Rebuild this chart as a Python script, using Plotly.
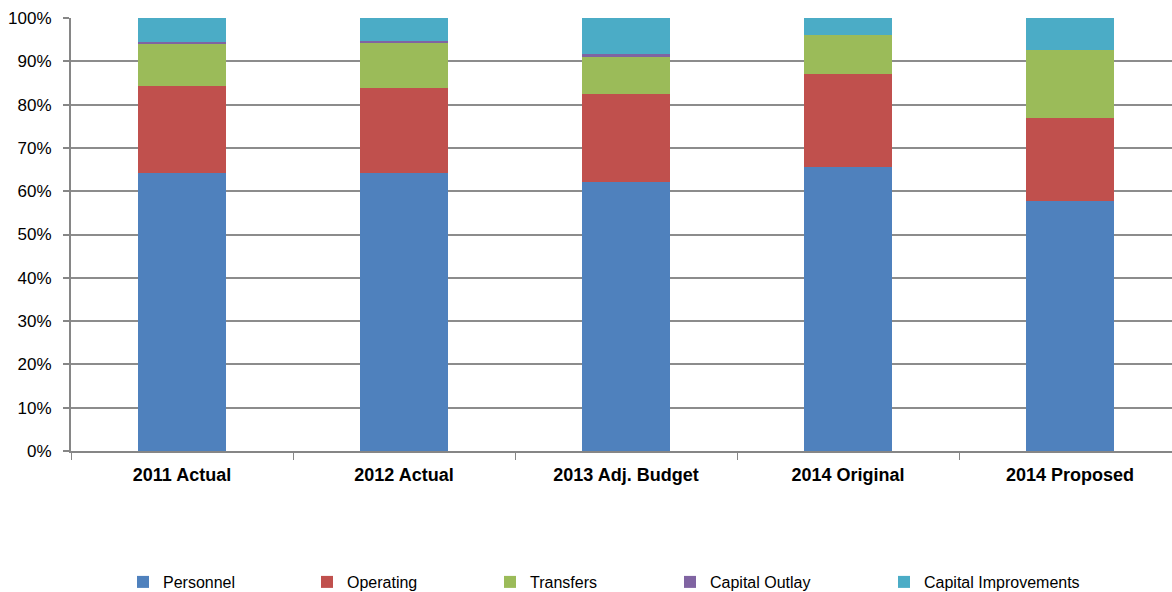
import plotly.graph_objects as go

categories = ["2011 Actual", "2012 Actual", "2013 Adj. Budget", "2014 Original", "2014 Proposed"]
personnel = [64.3, 64.2, 62.2, 65.5, 57.7]
operating = [20.1, 19.7, 20.3, 21.6, 19.3]
transfers = [9.5, 10.3, 8.6, 8.9, 15.7]
capital_outlay = [0.6, 0.5, 0.5, 0.0, 0.0]
capital_improvements = [5.5, 5.3, 8.4, 4.0, 7.3]

series = [
    ("Personnel", personnel, "#4F81BD"),
    ("Operating", operating, "#C0504D"),
    ("Transfers", transfers, "#9BBB59"),
    ("Capital Outlay", capital_outlay, "#8064A2"),
    ("Capital Improvements", capital_improvements, "#4BACC6"),
]

W, H = 1172, 592
L, R, T, B = 71, 0, 18, 141
plot_w = W - L - R
plot_h = H - T - B

legend_px = [138, 322, 505, 685, 899]
legend_py = 582

fig = go.Figure()
layout_legends = {}
for i, (name, vals, color) in enumerate(series):
    lname = "legend" if i == 0 else f"legend{i+1}"
    fig.add_trace(go.Bar(
        x=categories, y=vals, name=name,
        marker=dict(color=color, line=dict(width=0)),
        width=0.4, legend=lname,
    ))
    layout_legends[lname] = dict(
        x=(legend_px[i] - 15 - L) / plot_w,
        y=(plot_h + T - legend_py) / plot_h,
        xanchor="left", yanchor="middle",
        orientation="h",
        font=dict(family="Liberation Sans, Arial, sans-serif", size=16, color="#000000"),
        bgcolor="rgba(0,0,0,0)", borderwidth=0,
        itemwidth=30,
    )

fig.update_layout(
    barmode="stack",
    width=W, height=H,
    margin=dict(l=L, r=R, t=T, b=B, pad=0, autoexpand=False),
    paper_bgcolor="white", plot_bgcolor="white",
    showlegend=True,
    **layout_legends,
)

fig.update_xaxes(
    range=[-0.5, 4.5 - 9 / 222],
    showgrid=False,
    showline=True, linecolor="#868686", linewidth=2,
    ticks="outside", tickson="boundaries", ticklen=7, tickcolor="#868686", tickwidth=1,
    tickfont=dict(family="Liberation Sans, Arial, sans-serif",
                  size=18, color="#000000", weight="bold"),
    ticklabelstandoff=6,
    automargin=False,
)

fig.update_yaxes(
    range=[0, 100],
    tickvals=[0, 10, 20, 30, 40, 50, 60, 70, 80, 90, 100],
    ticktext=[f"{v}%" for v in range(0, 101, 10)],
    showgrid=True, gridcolor="#8c8c8c", gridwidth=1.5,
    showline=True, linecolor="#868686", linewidth=2,
    ticks="outside", ticklen=6, tickcolor="#868686", tickwidth=1.5,
    tickfont=dict(family="Liberation Sans, Arial, sans-serif", size=17, color="#000000"),
    ticklabelstandoff=8,
    zeroline=False,
    automargin=False,
)

fig.write_html("out.html", config={"displayModeBar": False},
               post_script="document.body.style.margin='0px';")
